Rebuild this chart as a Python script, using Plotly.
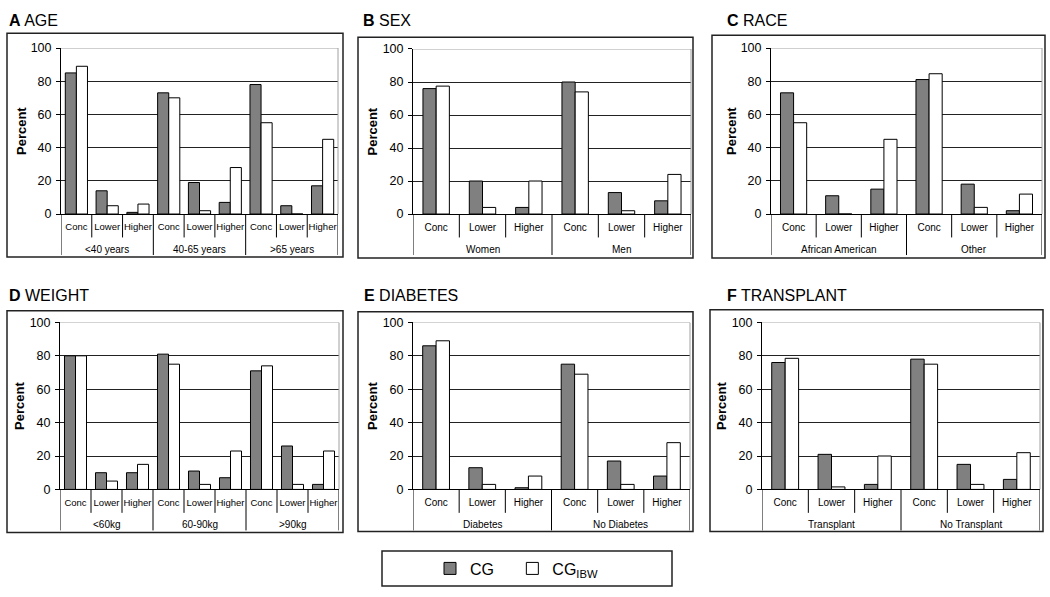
import plotly.graph_objects as go

W, H = 1050, 597

subcats = ['Conc', 'Lower', 'Higher']

age_groups = ['<40 years', '40-65 years', '>65 years']
age_cg = [85, 14, 1, 73, 19, 7, 78, 5, 17]
age_ibw = [89, 5, 6, 70, 2, 28, 55, 0, 45]

sex_groups = ['Women', 'Men']
sex_cg = [76, 20, 4, 80, 13, 8]
sex_ibw = [77.5, 4, 20, 74, 2, 24]

race_groups = ['African American', 'Other']
race_cg = [73, 11, 15, 81, 18, 2]
race_ibw = [55, 0, 45, 84.5, 4, 12]

weight_groups = ['<60kg', '60-90kg', '>90kg']
weight_cg = [80, 10, 10, 81, 11, 7, 71, 26, 3]
weight_ibw = [80, 5, 15, 75, 3, 23, 74, 3, 23]

diab_groups = ['Diabetes', 'No Diabetes']
diab_cg = [86, 13, 1, 75, 17, 8]
diab_ibw = [89, 3, 8, 69, 3, 28]

tx_groups = ['Transplant', 'No Transplant']
tx_cg = [76, 21, 3, 78, 15, 6]
tx_ibw = [78.5, 1.5, 20, 75, 3, 22]

y_ticks = [0, 20, 40, 60, 80, 100]

series_names = ['CG', 'CG<sub>IBW</sub>']

# layout (pixels): plot area x0,x1,y_top,y_bottom ; frame x0,x1,y0,y1 ; title pos
panels = [
    dict(letter='A', name='AGE', groups=age_groups, cg=age_cg, ibw=age_ibw,
         plot=(61, 338, 42, 212), frame=(7, 343, 27, 256), title=(7, 14), bw=0.36, fs=9.5),
    dict(letter='B', name='SEX', groups=sex_groups, cg=sex_cg, ibw=sex_ibw,
         plot=(413, 691, 43, 212), frame=(358, 693, 31, 257), title=(361, 14), bw=0.285, fs=10),
    dict(letter='C', name='RACE', groups=race_groups, cg=race_cg, ibw=race_ibw,
         plot=(771, 1042, 42, 212), frame=(712, 1045, 29, 257), title=(725, 14), bw=0.29, fs=10),
    dict(letter='D', name='WEIGHT', groups=weight_groups, cg=weight_cg, ibw=weight_ibw,
         plot=(60, 339, 323, 494), frame=(7, 343, 311, 538), title=(7, 295), bw=0.355, fs=9.5),
    dict(letter='E', name='DIABETES', groups=diab_groups, cg=diab_cg, ibw=diab_ibw,
         plot=(413, 690, 323, 494), frame=(358, 693, 312, 537), title=(362, 295), bw=0.29, fs=10),
    dict(letter='F', name='TRANSPLANT', groups=tx_groups, cg=tx_cg, ibw=tx_ibw,
         plot=(762, 1040, 323, 494), frame=(710, 1043, 310, 537), title=(725, 295), bw=0.29, fs=10),
]

FONT = 'Arial, Liberation Sans, sans-serif'
GREY = '#808080'


def fx(px):
    return px / W


def fy(py):
    return 1 - py / H


fig = go.Figure()
shapes = []
annotations = []

for i, p in enumerate(panels):
    k = i + 1
    xa = 'x' if k == 1 else f'x{k}'
    ya = 'y' if k == 1 else f'y{k}'
    n = len(p['groups']) * len(subcats)
    xs = list(range(n))
    bw = p['bw']
    fig.add_trace(go.Bar(
        x=xs, y=p['cg'], xaxis=xa, yaxis=ya, name=series_names[0] + '&nbsp;&nbsp;&nbsp;',
        width=bw, offset=-bw,
        marker=dict(color=GREY, line=dict(color='black', width=1)),
        showlegend=(k == 1), legendrank=1, hoverinfo='y',
    ))
    fig.add_trace(go.Bar(
        x=xs, y=p['ibw'], xaxis=xa, yaxis=ya, name=series_names[1],
        width=bw, offset=0,
        marker=dict(color='white', line=dict(color='black', width=1)),
        showlegend=(k == 1), legendrank=2, hoverinfo='y',
    ))
    x0, x1, yt, yb = p['plot']
    xkey = 'xaxis' if k == 1 else f'xaxis{k}'
    ykey = 'yaxis' if k == 1 else f'yaxis{k}'
    fig.layout[xkey] = dict(
        domain=[fx(x0), fx(x1)], anchor=ya, range=[-0.5, n - 0.5],
        tickvals=xs, ticktext=subcats * len(p['groups']),
        tickfont=dict(family=FONT, size=p['fs'], color='black'),
        tickangle=0,
        showline=True, linecolor='black', linewidth=1,
        showgrid=False, zeroline=False, ticks='', ticklabelstandoff=4,
        fixedrange=True,
    )
    fig.layout[ykey] = dict(
        domain=[fy(yb), fy(yt)], anchor=xa, range=[0, 100],
        tickvals=y_ticks, tickfont=dict(family=FONT, size=12.5, color='black'),
        showline=True, linecolor='black', linewidth=1,
        showgrid=True, gridcolor='#222222', gridwidth=1,
        ticks='outside', ticklen=4, tickcolor='black', ticklabelstandoff=2,
        zeroline=False, fixedrange=True,
    )
    # grey top and right borders of plot area
    shapes.append(dict(type='line', xref=f'{xa} domain', yref=ya, x0=0, x1=1, y0=100, y1=100,
                       line=dict(color='#a0a0a0', width=1), layer='above'))
    shapes.append(dict(type='line', xref=f'{xa} domain', yref=ya, x0=1, x1=1, y0=0, y1=100,
                       line=dict(color='#a0a0a0', width=1), layer='above'))
    # category dividers below axis
    for j in range(n + 1):
        xpos = j - 0.5
        is_group = (j % len(subcats) == 0)
        ylen = 42 if is_group else 24
        shapes.append(dict(type='line', xref=xa, yref='paper', x0=xpos, x1=xpos,
                           y0=fy(yb), y1=fy(yb + ylen),
                           line=dict(color='black', width=1)))
    # group labels
    for g, gname in enumerate(p['groups']):
        annotations.append(dict(
            text=gname, xref=xa, yref='paper', x=g * len(subcats) + 1, y=fy(yb + 36),
            showarrow=False, xanchor='center', yanchor='middle',
            font=dict(family=FONT, size=10, color='black')))
    # y axis title
    annotations.append(dict(
        text='<b>Percent</b>', xref='paper', yref='paper', x=fx(x0 - 40), y=fy((yt + yb) / 2),
        textangle=-90, showarrow=False, xanchor='center', yanchor='middle',
        font=dict(family=FONT, size=13, color='black')))
    # panel title
    tx, ty = p['title']
    annotations.append(dict(
        text=f"<b>{p['letter']}</b> {p['name']}", xref='paper', yref='paper',
        x=fx(tx), y=fy(ty), showarrow=False, xanchor='left', yanchor='middle',
        font=dict(family=FONT, size=16, color='black')))
    # outer frame
    f0, f1, g0, g1 = p['frame']
    shapes.append(dict(type='rect', xref='paper', yref='paper', x0=fx(f0), x1=fx(f1),
                       y0=fy(g1), y1=fy(g0), line=dict(color='#222222', width=1.5)))

# legend box
shapes.append(dict(type='rect', xref='paper', yref='paper', x0=fx(382), x1=fx(672),
                   y0=fy(593), y1=fy(557), line=dict(color='#222222', width=1.5)))

fig.update_layout(
    width=W, height=H,
    margin=dict(l=0, r=0, t=0, b=0),
    paper_bgcolor='white', plot_bgcolor='white',
    barmode='group',
    shapes=shapes, annotations=annotations,
    showlegend=True,
    legend=dict(orientation='h', x=fx(430), y=fy(575), xanchor='left', yanchor='middle',
                bgcolor='rgba(0,0,0,0)', borderwidth=0,
                font=dict(family=FONT, size=16, color='black'),
                itemclick=False, itemdoubleclick=False),
)

fig.write_html('out.html', config={'displayModeBar': False},
               post_script="document.body.style.margin='0';document.body.style.overflow='hidden';")
